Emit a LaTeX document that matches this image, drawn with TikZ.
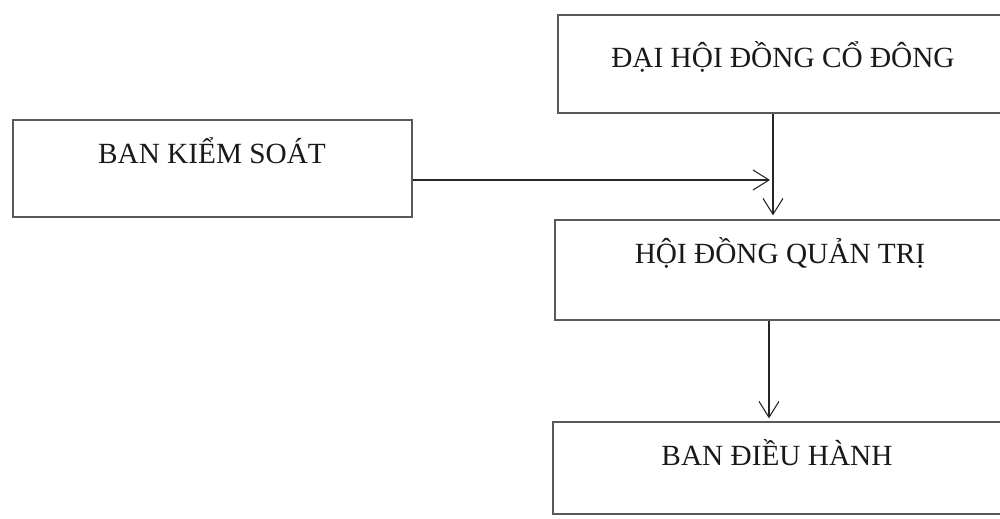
\documentclass[tikz,border=0pt]{standalone}
\usepackage{fontspec}
\setmainfont{Liberation Serif}
\usetikzlibrary{arrows.meta}
\begin{document}
\begin{tikzpicture}[x=0.03cm,y=-0.03cm,
  box/.style={draw=black!65,line width=1.1pt,rectangle,inner sep=0pt},
  lbl/.style={anchor=base,inner sep=0pt,font=\fontsize{25}{30}\selectfont,text=black!90},
  arr/.style={draw=black!85,line width=0.9pt,-{Straight Barb[length=16*0.03cm,width=20*0.03cm,line width=0.9pt]}}]
\useasboundingbox (0,0) rectangle (1000,518);
\clip (0,0) rectangle (1000,518);
\fill[white] (0,0) rectangle (1000,518);
% boxes
\node[box,minimum width=447*0.03cm,minimum height=98*0.03cm] (dhd) at (781.5,64) {};
\node[box,minimum width=399*0.03cm,minimum height=97*0.03cm] (bks) at (212.5,168.5) {};
\node[box,minimum width=450*0.03cm,minimum height=100*0.03cm] (hdqt) at (780,270) {};
\node[box,minimum width=452*0.03cm,minimum height=92*0.03cm] (bdh) at (779,468) {};
% texts
\node[lbl] (tdhd) at (783,67) {ĐẠI HỘI ĐỒNG CỔ ĐÔNG};
\node[lbl] (tbks) at (212,163) {BAN KIỂM SOÁT};
\node[lbl] (thdqt) at (780,263) {HỘI ĐỒNG QUẢN TRỊ};
\node[lbl] (tbdh) at (777,465) {BAN ĐIỀU HÀNH};
% connectors
\coordinate (j) at (770,180);
\draw[arr] (dhd.south -| 773,0) -- ([yshift=4*0.03cm]hdqt.north -| 773,0);
\draw[arr] (bks.east |- 0,180) -- (j);
\draw[arr] (hdqt.south -| 769,0) -- ([yshift=3*0.03cm]bdh.north -| 769,0);
\end{tikzpicture}
\end{document}
